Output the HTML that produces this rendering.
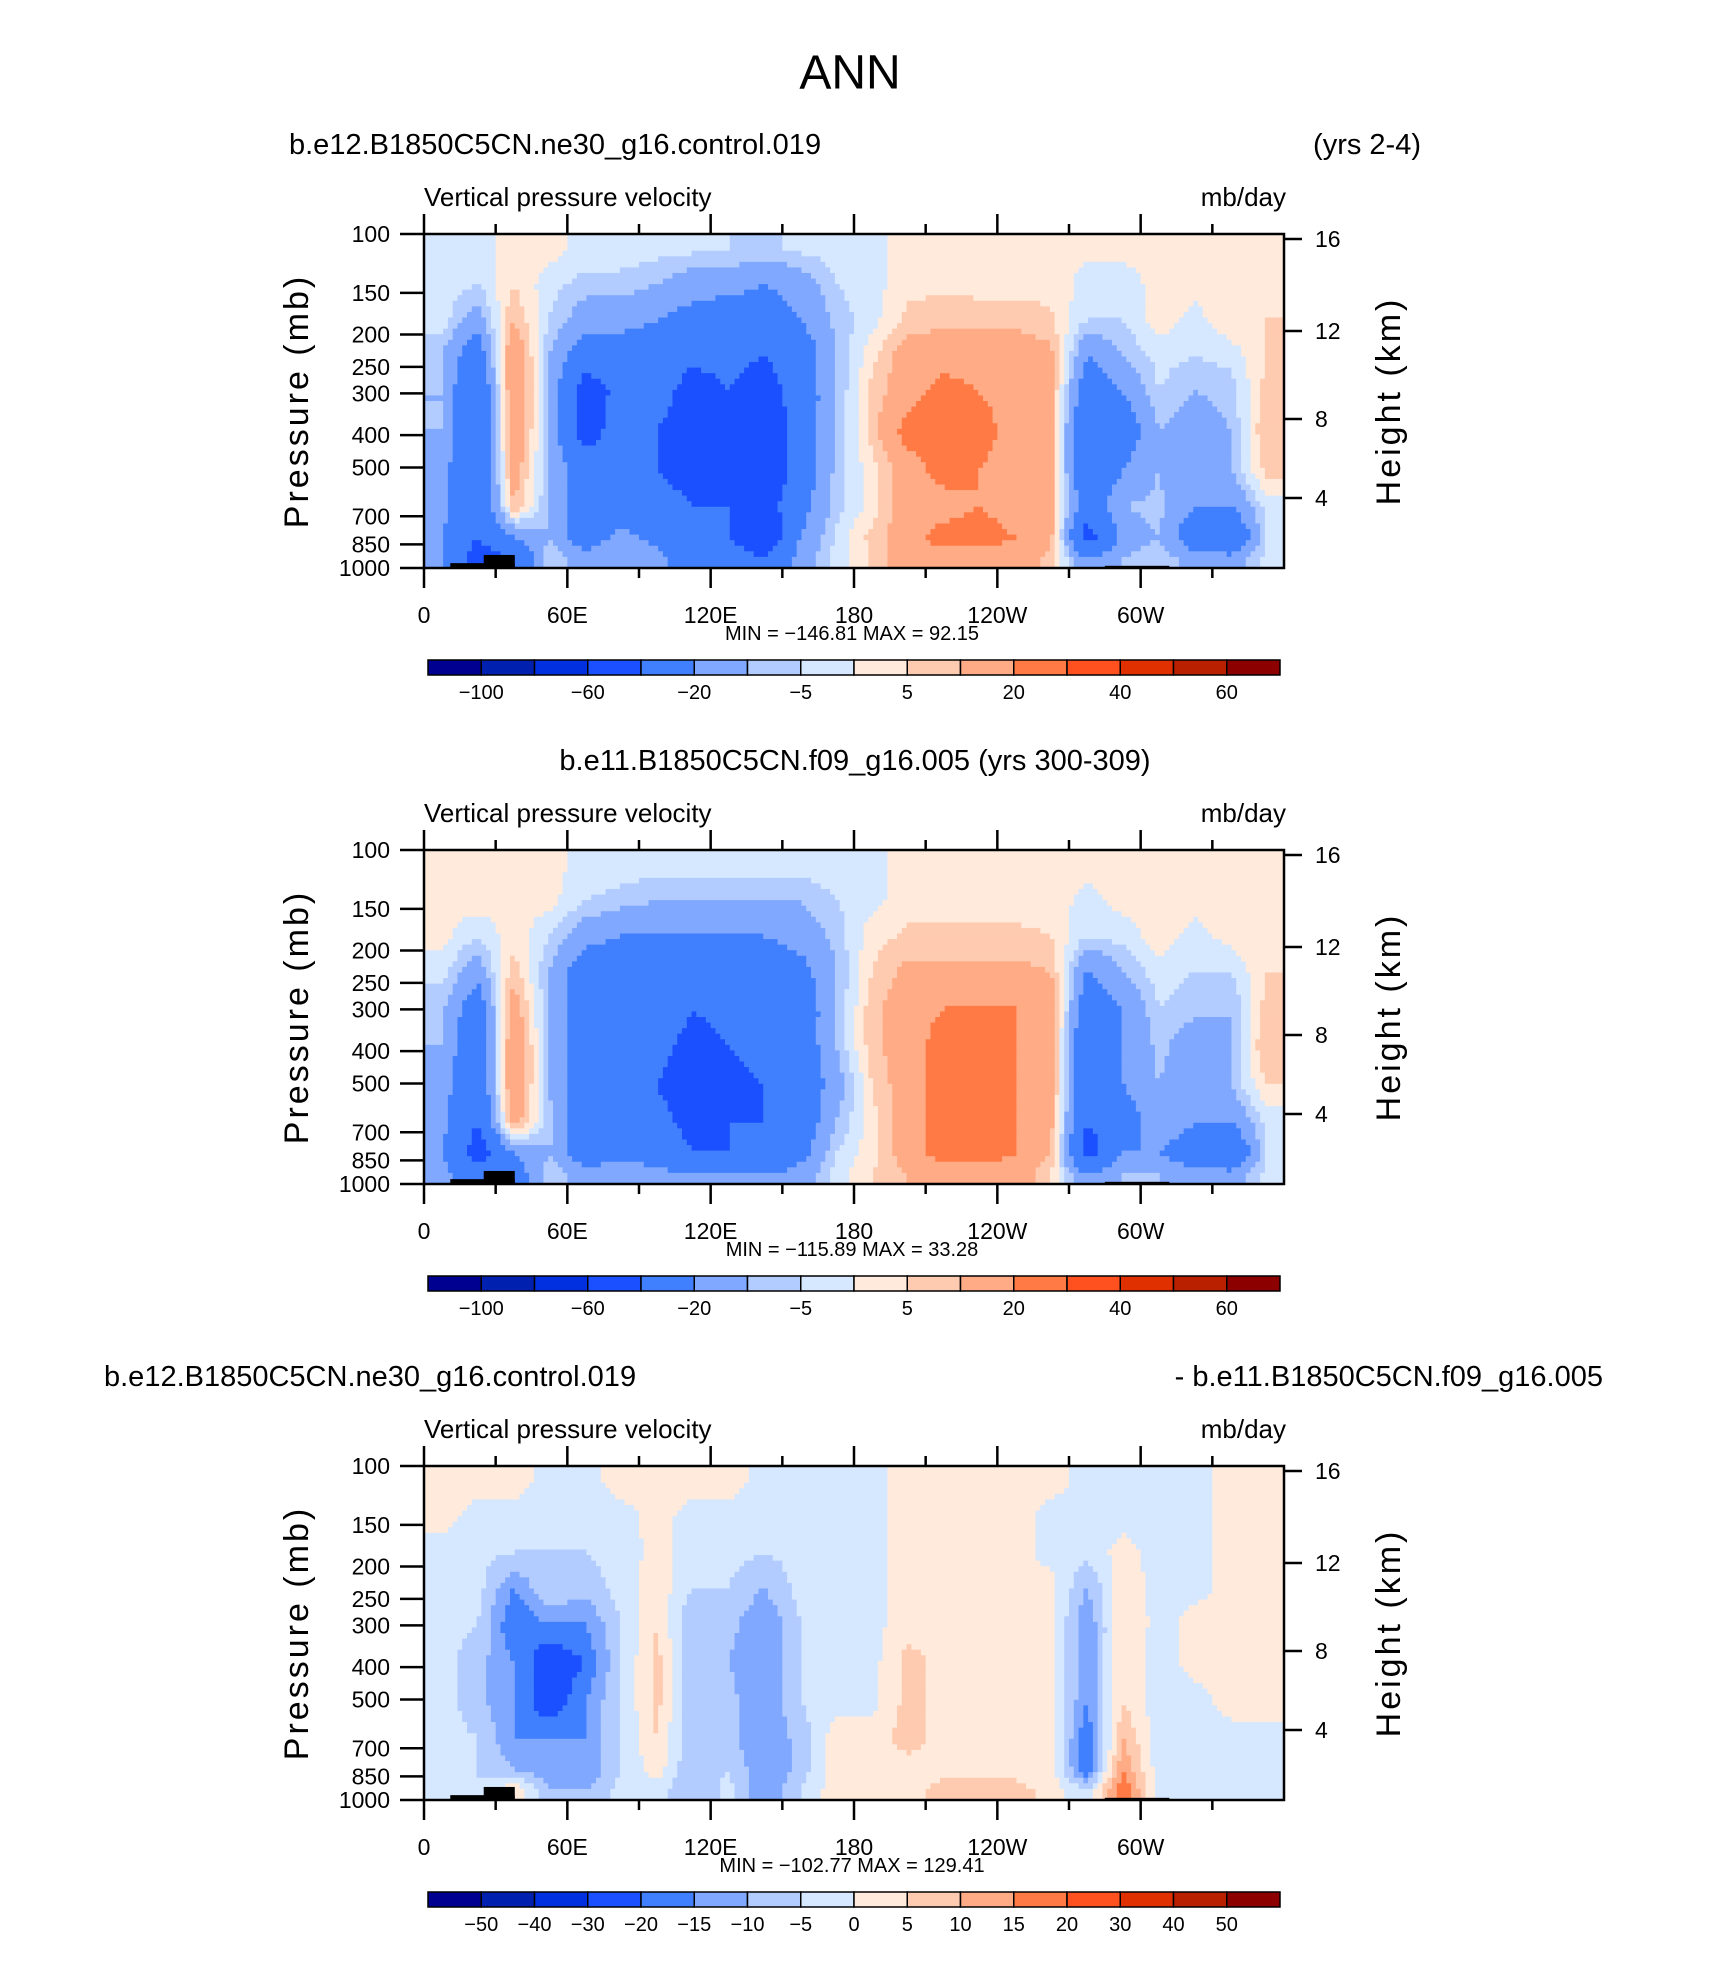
<!DOCTYPE html>
<html><head><meta charset="utf-8"><title>ANN Vertical pressure velocity</title>
<style>
html,body{margin:0;padding:0;background:#fff;}
svg{display:block;}
text{font-family:"Liberation Sans","DejaVu Sans",sans-serif;fill:#000;}
</style></head>
<body>
<svg id="fig" width="1710" height="1974" viewBox="0 0 1710 1974" xmlns="http://www.w3.org/2000/svg"></svg>
<script>
// ---------- data ----------
const lonBins = [7.5,22.5,37.5,52.5,67.5,82.5,97.5,112.5,127.5,142.5,157.5,172.5,187.5,202.5,217.5,232.5,247.5,262.5,277.5,292.5,307.5,322.5,337.5,352.5];
const pressureBands = [[100,125],[125,160],[160,205],[205,260],[260,340],[340,440],[440,580],[580,740],[740,880],[880,1000]];
const pressureTicks = [100,150,200,250,300,400,500,700,850,1000];
const heightTicks = ["16","12","8","4"];
const lonTicks = [0,60,120,180,240,300];
const lonTickLabels = ["0","60E","120E","180","120W","60W"];
const levelsMain = [-100,-80,-60,-40,-20,-10,-5,0,5,10,20,30,40,50,60];
const labelsMain = ["-100","","-60","","-20","","-5","","5","","20","","40","","60"];
const levelsDiff = [-50,-40,-30,-20,-15,-10,-5,0,5,10,15,20,30,40,50];
const labelsDiff = ["-50","-40","-30","-20","-15","-10","-5","0","5","10","15","20","30","40","50"];
const colors = ["#000090","#0020b0","#0030e0","#1a50ff","#4080ff","#80a8ff","#b3ccff","#d6e8ff","#ffeadb","#ffcbb0","#ffab85","#ff7a45","#ff5020","#e03000","#b82000","#8c0000"];
// values per longitude column, rows top (100mb) to bottom (1000mb)
const p1Cols = [
[-2,-2,-2,-10,-10,-10,-15,-15,-20,-20],
[-3,-5,-15,-30,-40,-40,-40,-40,-40,-50],
[3,5,10,20,20,20,15,10,-20,-40],
[2,-3,-5,-10,-10,-10,-10,-10,-10,-5],
[-2,-7,-15,-30,-50,-50,-30,-30,-30,-15],
[-2,-7,-15,-30,-35,-30,-30,-30,-15,-10],
[-3,-10,-20,-30,-30,-40,-40,-30,-25,-15],
[-4,-15,-25,-35,-50,-50,-50,-40,-40,-30],
[-5,-15,-30,-35,-40,-40,-40,-40,-40,-25],
[-6,-20,-30,-40,-50,-60,-60,-50,-60,-40],
[-4,-15,-20,-30,-30,-30,-30,-25,-20,-15],
[-3,-5,-8,-10,-10,-10,-8,-7,-4,-3],
[-2,-2,-2,3,7,7,3,2,7,6],
[2,3,7,15,15,25,15,15,15,15],
[2,4,8,15,25,25,25,15,25,15],
[2,3,8,15,20,25,20,20,25,15],
[2,3,8,15,15,15,15,15,20,15],
[2,3,6,12,12,12,12,12,12,8],
[1,-2,-5,-20,-30,-40,-40,-30,-50,-20],
[2,-3,-5,-10,-20,-30,-20,-10,-15,-10],
[2,2,3,-3,-5,-10,-10,-8,-10,-5],
[2,2,-2,-5,-10,-15,-20,-20,-30,-15],
[2,2,4,-3,-8,-10,-10,-20,-40,-15],
[2,2,5,5,7,10,7,-3,-5,-3]];
const p2Cols = [
[2,2,2,-3,-8,-10,-15,-15,-20,-15],
[2,3,-5,-15,-30,-35,-35,-40,-50,-30],
[2,3,3,8,15,20,20,15,-20,-30],
[2,2,-5,-10,-10,-10,-10,-8,-10,-5],
[-2,-5,-15,-30,-30,-30,-30,-30,-30,-15],
[-2,-7,-20,-30,-35,-35,-30,-30,-25,-10],
[-3,-10,-20,-30,-30,-35,-40,-35,-30,-15],
[-3,-10,-20,-30,-40,-45,-50,-45,-40,-20],
[-3,-10,-20,-30,-35,-40,-45,-40,-40,-20],
[-3,-10,-20,-30,-35,-35,-40,-40,-40,-20],
[-3,-10,-15,-25,-30,-30,-30,-30,-25,-15],
[-2,-5,-8,-10,-10,-10,-15,-10,-5,-3],
[-2,-2,3,5,8,8,5,3,3,5],
[2,3,6,12,15,15,15,15,15,10],
[2,3,6,12,20,25,25,25,25,15],
[2,3,6,12,20,25,25,25,25,15],
[2,3,6,12,20,20,20,20,20,15],
[2,3,5,10,15,15,15,12,10,5],
[2,-2,-5,-20,-30,-40,-40,-40,-50,-20],
[2,2,-3,-10,-20,-20,-20,-30,-20,-10],
[2,2,3,-2,-5,-8,-10,-10,-20,-10],
[2,2,-2,-5,-8,-15,-15,-20,-30,-15],
[2,2,2,-5,-10,-10,-10,-20,-40,-15],
[2,2,4,5,7,10,5,-3,-5,-3]];
const p3Cols = [
[2,2,-2,-2,-3,-3,-3,-3,-3,-5],
[2,-2,-3,-3,-5,-8,-8,-5,-5,-5],
[2,-2,-5,-15,-20,-15,-15,-15,-10,5],
[-2,-3,-5,-5,-15,-25,-25,-15,-15,-10],
[-2,-3,-5,-8,-15,-20,-15,-15,-15,-10],
[2,-2,-3,-3,-5,-5,-5,-5,-5,-3],
[2,2,2,3,5,7,7,5,3,-3],
[2,-2,-3,-5,-10,-10,-10,-10,-10,-10],
[2,-2,-3,-5,-8,-10,-8,-8,-5,-3],
[-2,-3,-5,-10,-15,-15,-15,-15,-15,-15],
[-2,-3,-3,-3,-5,-5,-5,-8,-8,-5],
[-2,-2,-2,-2,-2,-2,-2,3,3,3],
[-2,-2,-2,-2,-2,-2,-2,3,3,3],
[2,2,2,3,3,7,7,7,3,3],
[2,2,2,2,3,3,3,3,3,7],
[2,2,2,2,2,2,2,3,3,7],
[2,2,2,2,2,2,2,3,3,7],
[2,-2,-2,2,2,2,2,3,3,3],
[-2,-2,-3,-10,-15,-15,-15,-20,-20,-5],
[-2,-2,2,3,5,5,5,10,15,20],
[-2,-2,-2,-2,-2,-3,-3,-3,-3,-3],
[-2,-2,-2,-2,2,2,-2,-3,-3,-3],
[2,2,2,2,2,2,2,-2,-3,-3],
[2,2,2,2,2,2,2,-2,-2,-3]];
const topoLonStart = [11,25,285];
const topoLonEnd = [38,38,312];
const topoPres = [967,914,985];

// ---------- drawing ----------
const NS = "http://www.w3.org/2000/svg";
const svg = document.getElementById("fig");
const X0 = 424, X1 = 1284, PH = 334;
function xOf(lon){ return X0 + lon/360*(X1-X0); }
function yOf(top,p){ return top + Math.log10(p/100)*PH; }
function el(tag, attrs, parent){
  const e = document.createElementNS(NS, tag);
  for (const k in attrs) e.setAttribute(k, attrs[k]);
  (parent||svg).appendChild(e); return e;
}
function txt(s, x, y, size, anchor, parent){
  const t = el("text", {x:x, y:y, "font-size":size, "text-anchor":anchor||"start", "dominant-baseline":"central"}, parent);
  t.textContent = s; return t;
}
function colorFor(v, levels){
  for (let i=0;i<levels.length;i++) if (v < levels[i]) return colors[i];
  return colors[levels.length];
}
const rowCenters = pressureBands.map(b => Math.log10(Math.sqrt(b[0]*b[1])));
function sample(cols, lon, lp){
  let fc = (lon - lonBins[0]) / 15;
  fc = Math.max(0, Math.min(lonBins.length-1, fc));
  const c0 = Math.floor(fc), c1 = Math.min(lonBins.length-1, c0+1), tc = fc - c0;
  let r0 = 0;
  while (r0 < rowCenters.length-2 && lp > rowCenters[r0+1]) r0++;
  let tr = (lp - rowCenters[r0]) / (rowCenters[r0+1]-rowCenters[r0]);
  tr = Math.max(0, Math.min(1, tr));
  const r1 = r0+1;
  const a = cols[c0][r0]*(1-tc) + cols[c1][r0]*tc;
  const b = cols[c0][r1]*(1-tc) + cols[c1][r1]*tc;
  return a*(1-tr) + b*tr;
}

let t = txt("ANN", 850, 73, 48, "middle");



function panel(top, cols, levels, labels, minmax, idx){
  const g = el("g", {});
  
  
  const cells = el("g", {}, g);
  
  
  const NX = 180, NY = 60;
  for (let j=0;j<NY;j++){
    const lpa = 2 + j/NY, lpb = 2 + (j+1)/NY;
    const ya = top + (lpa-2)*PH, yb = top + (lpb-2)*PH;
    let runStart = 0, runColor = null;
    for (let i=0;i<=NX;i++){
      let col = null;
      if (i < NX){
        const lon = (i+0.5)*360/NX;
        col = colorFor(sample(cols, lon, (lpa+lpb)/2), levels);
      }
      if (col !== runColor){
        if (runColor !== null){
          const xa = xOf(runStart*360/NX), xb = xOf(i*360/NX);
          const rc = el("rect", {x:xa, y:ya, width:xb-xa+0.5, height:yb-ya+0.5, fill:runColor}, cells);
          
          
        }
        runStart = i; runColor = col;
      }
    }
  }
  for (let i=0;i<topoLonStart.length;i++){
    const ya = yOf(top, topoPres[i]);
    const rr = el("rect", {x:xOf(topoLonStart[i]), y:ya, width:xOf(topoLonEnd[i])-xOf(topoLonStart[i]), height:top+PH-ya, fill:"#000"}, g);
    
    
  }
  const fr = el("rect", {x:X0, y:top, width:X1-X0, height:PH, fill:"none", stroke:"#000", "stroke-width":2.5}, g);
  
  
  for (const p of pressureTicks){
    const y = yOf(top,p);
    el("line", {x1:400, x2:X0, y1:y, y2:y, stroke:"#000", "stroke-width":2.5}, g);
    const l = txt(String(p), 390, y, 23, "end", g);
    
    
  }
  const hy = [5, 97, 185, 264];
  for (let i=0;i<heightTicks.length;i++){
    const y = top + hy[i];
    el("line", {x1:X1, x2:X1+18, y1:y, y2:y, stroke:"#000", "stroke-width":2.5}, g);
    const l = txt(heightTicks[i], 1315, y, 23, "start", g);
    
    
  }
  for (let lon=0; lon<=330; lon+=30){
    const major = lon % 60 === 0;
    const x = xOf(lon);
    el("line", {x1:x, x2:x, y1:top, y2:top-(major?20:10), stroke:"#000", "stroke-width":2.5}, g);
    el("line", {x1:x, x2:x, y1:top+PH, y2:top+PH+(major?20:10), stroke:"#000", "stroke-width":2.5}, g);
  }
  for (let i=0;i<lonTicks.length;i++){
    const l = txt(lonTickLabels[i], xOf(lonTicks[i]), top+381, 23, "middle", g);
    
    
  }
  let s = txt("Vertical pressure velocity", 424, top-37, 26, "start", g);
  
  
  s = txt("mb/day", 1286, top-37, 26, "end", g);
  
  
  s = txt("Pressure (mb)", 0, 0, 34, "middle", g);
  s.setAttribute("transform", "translate(297,"+(top+PH/2)+") rotate(-90)");
  s.setAttribute("letter-spacing", "3");
  
  
  s = txt("Height (km)", 0, 0, 34, "middle", g);
  s.setAttribute("transform", "translate(1389,"+(top+PH/2)+") rotate(-90)");
  s.setAttribute("letter-spacing", "3");
  
  
  s = txt(minmax, 852, top+400, 20, "middle", g);
  
  
  const cb = el("g", {}, g);
  
  
  const cx0 = 428, cx1 = 1280, cy = top+426, ch = 15, bw = (cx1-cx0)/16;
  for (let i=0;i<16;i++){
    const b = el("rect", {x:cx0+i*bw, y:cy, width:bw, height:ch, fill:colors[i], stroke:"#000", "stroke-width":1.5}, cb);
    
    
  }
  for (let i=0;i<labels.length;i++){
    if (!labels[i]) continue;
    const l = txt(labels[i].replace("-","\u2212"), cx0+(i+1)*bw, top+459, 20, "middle", cb);
    
    
  }
}

panel(234, p1Cols, levelsMain, labelsMain, "MIN = \u2212146.81   MAX =  92.15", 1);
panel(850, p2Cols, levelsMain, labelsMain, "MIN = \u2212115.89   MAX =  33.28", 2);
panel(1466, p3Cols, levelsDiff, labelsDiff, "MIN = \u2212102.77   MAX = 129.41", 3);

t = txt("b.e12.B1850C5CN.ne30_g16.control.019", 289, 145, 29, "start");


t = txt("(yrs 2-4)", 1421, 145, 29, "end");


t = txt("b.e11.B1850C5CN.f09_g16.005 (yrs 300-309)", 855, 761, 29, "middle");


t = txt("b.e12.B1850C5CN.ne30_g16.control.019", 104, 1377, 29, "start");


t = txt("- b.e11.B1850C5CN.f09_g16.005", 1603, 1377, 29, "end");


</script>
</body></html>
